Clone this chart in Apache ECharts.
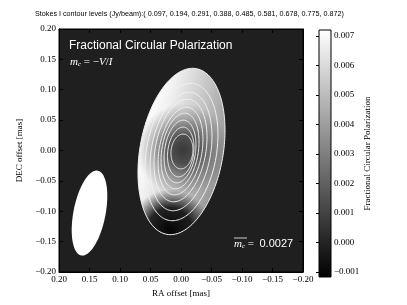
<!DOCTYPE html>
<html><head><meta charset="utf-8">
<script src="https://cdn.jsdelivr.net/npm/echarts@6/dist/echarts.min.js"></script>
<style>html,body{margin:0;padding:0;background:#fff}#c{width:407px;height:305px}</style>
</head><body><div id="c"></div>
<script>
// ---------------- data ----------------
const raTicks = [0.20, 0.15, 0.10, 0.05, 0.00, -0.05, -0.10, -0.15, -0.20];
const decTicks = [-0.20, -0.15, -0.10, -0.05, 0.00, 0.05, 0.10, 0.15, 0.20];
const cbarTicks = [-0.001, 0.000, 0.001, 0.002, 0.003, 0.004, 0.005, 0.006, 0.007];
const cbarMin = -0.00117;
const cbarMax = 0.0072;

// Stokes I contours (ellipse fits): centre RA, centre DEC, semi-major, semi-minor (mas), tilt (deg)
const contourLevels = [0.097, 0.194, 0.291, 0.388, 0.485, 0.581, 0.678, 0.775, 0.872];
const contourRA    = [-0.0008, -0.0008, 0.0000, 0.0008, 0.0008, 0.0016, 0.0016, 0.0004, -0.0016];
const contourDEC   = [-0.0016, -0.0025, -0.0016, 0.0000, -0.0008, -0.0008, -0.0016, -0.0025, -0.0016];
const contourMajor = [0.1385, 0.1144, 0.0987, 0.0854, 0.0730, 0.0629, 0.0520, 0.0412, 0.0288];
const contourMinor = [0.0682, 0.0573, 0.0486, 0.0415, 0.0351, 0.0299, 0.0254, 0.0213, 0.0179];
const contourTilt  = [10, 10, 10, 10, 10, 9, 8, 7, 6];

// fractional circular polarization features: east edge, west edge, central minimum, southern minimum
const fracPolRA    = [0.070, -0.070, -0.003, 0.018];
const fracPolDEC   = [0.000, 0.000, 0.001, -0.130];
const fracPolValue = [0.0072, 0.0037, 0.0007, -0.0010];

// restoring beam
const beamRA = [0.150];
const beamDEC = [-0.103];
const beamMajor = [0.0711];
const beamMinor = [0.0263];
const beamTilt = [11];

const meanMc = 0.0027;

// ---------------- helpers ----------------
const minus = s => s.replace('-', '\u2212');
const fmt2 = v => minus((Math.abs(v) < 1e-9 ? 0 : v).toFixed(2));
const fmt3 = v => minus((Math.abs(v) < 1e-9 ? 0 : v).toFixed(3));
function grayLevel(v) {
  let t = (v - cbarMin) / (cbarMax - cbarMin);
  t = Math.max(0, Math.min(1, t));
  return Math.round(255 * t);
}
function gray(v, a) {
  const g = grayLevel(v);
  return a === undefined ? `rgb(${g},${g},${g})` : `rgba(${g},${g},${g},${a})`;
}
function ellipsePoints(api, ra, dec, a, b, tiltDeg, n) {
  const th = tiltDeg * Math.PI / 180;
  const u = [-Math.sin(th), Math.cos(th)];
  const w = [Math.cos(th), Math.sin(th)];
  const pts = [];
  for (let i = 0; i < n; i++) {
    const t = 2 * Math.PI * i / n;
    const c = Math.cos(t), s = Math.sin(t);
    pts.push(api.coord([ra + a * c * u[0] + b * s * w[0], dec + a * c * u[1] + b * s * w[1]]));
  }
  return pts;
}

const contourData = contourLevels.map((lv, i) => [contourRA[i], contourDEC[i], contourMajor[i], contourMinor[i], contourTilt[i], lv]);
const beamData = beamRA.map((r, i) => [r, beamDEC[i], beamMajor[i], beamMinor[i], beamTilt[i]]);

const serif = 'Liberation Serif';
const sans = 'Liberation Sans';
const tickLabel = { fontFamily: serif, fontSize: 9, color: '#000' };

const chart = echarts.init(document.getElementById('c'));
const axisCommon = {
  type: 'value', min: -0.2, max: 0.2, interval: 0.05,
  axisLine: { show: true, onZero: false, lineStyle: { color: '#000', width: 1 } },
  axisTick: { show: true, inside: true, length: 4, lineStyle: { color: '#000', width: 1 } },
  splitLine: { show: false }
};

chart.setOption({
  animation: false,
  backgroundColor: '#fff',
  grid: [
    { left: 59, top: 29, width: 244, height: 243, show: true, backgroundColor: '#1f1f1f', borderColor: '#000', borderWidth: 1 },
    { left: 319, top: 30, width: 12, height: 247, show: false }
  ],
  xAxis: [
    Object.assign({}, axisCommon, {
      gridIndex: 0, position: 'bottom', inverse: true,
      axisLabel: Object.assign({ formatter: fmt2, margin: 3, showMinLabel: true, showMaxLabel: true }, tickLabel),
      name: 'RA offset [mas]', nameLocation: 'middle', nameGap: 16,
      nameTextStyle: { fontFamily: serif, fontSize: 9, color: '#000' }
    }),
    Object.assign({}, axisCommon, { gridIndex: 0, position: 'top', inverse: true, axisLabel: { show: false } }),
    { gridIndex: 1, type: 'value', min: 0, max: 1, show: false }
  ],
  yAxis: [
    Object.assign({}, axisCommon, {
      gridIndex: 0, position: 'left',
      axisLabel: Object.assign({ formatter: fmt2, margin: 3, showMinLabel: true, showMaxLabel: true }, tickLabel),
      name: 'DEC offset [mas]', nameLocation: 'middle', nameGap: 28, nameRotate: 90,
      nameTextStyle: { fontFamily: serif, fontSize: 9, color: '#000' }
    }),
    Object.assign({}, axisCommon, { gridIndex: 0, position: 'right', axisLabel: { show: false } }),
    {
      gridIndex: 1, type: 'value', position: 'right', min: cbarMin, max: cbarMax,
      axisLine: { show: false },
      splitLine: { show: false },
      axisTick: { show: true, inside: true, length: 3, customValues: cbarTicks, lineStyle: { color: '#000' } },
      axisLabel: Object.assign({ customValues: cbarTicks, formatter: fmt3, margin: 3 }, tickLabel),
      name: 'Fractional Circular Polarization', nameLocation: 'middle', nameGap: 27, nameRotate: 90,
      nameTextStyle: { fontFamily: serif, fontSize: 9, color: '#000' }
    }
  ],
  series: [
    { // fractional polarization image, masked by outer Stokes I contour
      type: 'custom', coordinateSystem: 'cartesian2d', xAxisIndex: 0, yAxisIndex: 0, z: 2,
      data: [contourData[0]],
      renderItem(params, api) {
        const pts = ellipsePoints(api, api.value(0), api.value(1), api.value(2), api.value(3), api.value(4), 180);
        const E = api.coord([fracPolRA[0], fracPolDEC[0]]);
        const W = api.coord([fracPolRA[1], fracPolDEC[1]]);
        const C = api.coord([fracPolRA[2], fracPolDEC[2]]);
        const S = api.coord([fracPolRA[3], fracPolDEC[3]]);
        const mid = (fracPolValue[0] + fracPolValue[1]) / 2;
        return { type: 'group', children: [
          { type: 'polygon', shape: { points: pts }, style: { fill: {
            type: 'linear', global: true, x: E[0], y: E[1] - 12, x2: W[0], y2: W[1] + 12,
            colorStops: [
              { offset: 0, color: gray(fracPolValue[0]) },
              { offset: 0.2, color: gray(fracPolValue[0] - 0.0004) },
              { offset: 0.55, color: gray(mid) },
              { offset: 1, color: gray(fracPolValue[1]) }
            ] } } },
          { type: 'polygon', shape: { points: pts }, style: { fill: {
            type: 'radial', global: true, x: C[0], y: C[1], r: 46,
            colorStops: [
              { offset: 0, color: gray(fracPolValue[2], 1) },
              { offset: 0.3, color: gray(fracPolValue[2], 0.85) },
              { offset: 0.7, color: gray(fracPolValue[2], 0.3) },
              { offset: 1, color: gray(fracPolValue[2], 0) }
            ] } } },
          { type: 'polygon', shape: { points: pts }, style: { fill: {
            type: 'radial', global: true, x: S[0], y: S[1], r: 40,
            colorStops: [
              { offset: 0, color: gray(fracPolValue[3], 1) },
              { offset: 0.55, color: gray(fracPolValue[3], 0.85) },
              { offset: 1, color: gray(fracPolValue[3], 0) }
            ] } } }
        ] };
      }
    },
    { // Stokes I contours
      type: 'custom', coordinateSystem: 'cartesian2d', xAxisIndex: 0, yAxisIndex: 0, z: 3,
      data: contourData,
      renderItem(params, api) {
        const pts = ellipsePoints(api, api.value(0), api.value(1), api.value(2), api.value(3), api.value(4), 180);
        return { type: 'polygon', shape: { points: pts }, style: { fill: null, stroke: '#f2f2f2', lineWidth: 1 } };
      }
    },
    { // beam
      type: 'custom', coordinateSystem: 'cartesian2d', xAxisIndex: 0, yAxisIndex: 0, z: 3,
      data: beamData,
      renderItem(params, api) {
        const pts = ellipsePoints(api, api.value(0), api.value(1), api.value(2), api.value(3), api.value(4), 120);
        return { type: 'polygon', shape: { points: pts }, style: { fill: '#ffffff', stroke: null } };
      }
    },
    { // colorbar
      type: 'custom', coordinateSystem: 'cartesian2d', xAxisIndex: 2, yAxisIndex: 2, z: 2,
      data: [[0, cbarMin, 1, cbarMax]],
      renderItem(params, api) {
        const p1 = api.coord([api.value(0), api.value(3)]);
        const p2 = api.coord([api.value(2), api.value(1)]);
        return { type: 'rect', shape: { x: p1[0], y: p1[1], width: p2[0] - p1[0], height: p2[1] - p1[1] },
          style: { fill: { type: 'linear', x: 0, y: 0, x2: 0, y2: 1, colorStops: [
            { offset: 0, color: gray(cbarMax) }, { offset: 1, color: gray(cbarMin) }] },
            stroke: '#000', lineWidth: 1 } };
      }
    }
  ],
  graphic: [
    { type: 'text', left: 35, top: 11, style: {
      text: 'Stokes I contour levels (Jy/beam):( ' + contourLevels.map(v => v.toFixed(3)).join(', ') + ')',
      font: '7.2px "Liberation Sans"', fill: '#000' } },
    { type: 'text', x: 69, y: 46, style: { text: 'Fractional Circular Polarization',
      font: '12px "Liberation Sans"', fill: '#fff', verticalAlign: 'middle' } },
    { type: 'text', x: 70, y: 62, style: {
      text: '{i|m}{s|c}{u| = \u2212}{i|V}{u|/}{i|I}', verticalAlign: 'middle', fill: '#fff',
      rich: {
        i: { fontFamily: serif, fontStyle: 'italic', fontSize: 11, color: '#fff' },
        s: { fontFamily: serif, fontStyle: 'italic', fontSize: 7, color: '#fff', padding: [5, 0, 0, 0] },
        u: { fontFamily: serif, fontSize: 11, color: '#fff' }
      } } },
    { type: 'text', x: 234, y: 244, style: {
      text: '{i|m}{s|c}{u| =  }{n|' + meanMc.toFixed(4) + '}', verticalAlign: 'middle', fill: '#fff',
      rich: {
        i: { fontFamily: serif, fontStyle: 'italic', fontSize: 11, color: '#fff' },
        s: { fontFamily: serif, fontStyle: 'italic', fontSize: 7, color: '#fff', padding: [5, 0, 0, 0] },
        u: { fontFamily: serif, fontSize: 11, color: '#fff' },
        n: { fontFamily: sans, fontSize: 11, color: '#fff' }
      } } },
    { type: 'line', shape: { x1: 234, y1: 238, x2: 247, y2: 238 }, style: { stroke: '#fff', lineWidth: 0.8 } }
  ]
});
</script>
</body></html>
